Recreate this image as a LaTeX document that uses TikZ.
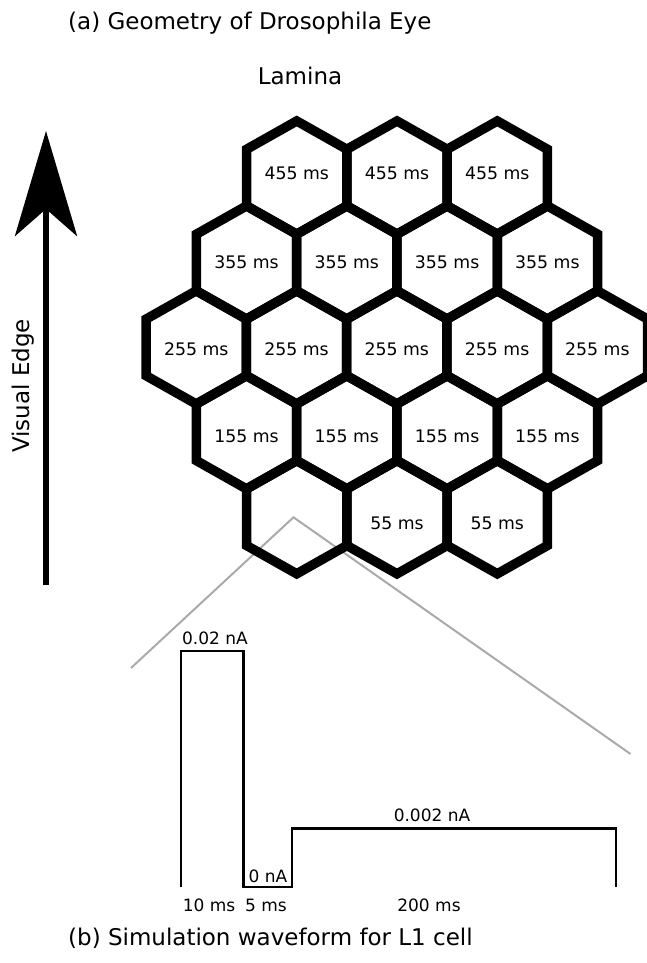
\documentclass[tikz,border=0pt]{standalone}
\usepackage{fontspec}
\setmainfont{DejaVu Sans}
\usepackage{tikz}
\usetikzlibrary{
  arrows.meta
}
\usepackage{xcolor}
\definecolor{zgray}{RGB}{170,170,170}
\tikzset{
  cell/.style={
    draw=black, line width=9.5pt, line join=miter
  },
  celltext/.style={
    font=\fontsize{17.3}{21}\selectfont, inner sep=0pt
  },
  caption/.style={
    font=\fontsize{23}{28}\selectfont, inner sep=0pt
  },
  wave/.style={
    draw=black, line width=2.4pt, line join=miter
  },
  wavetext/.style={
    font=\fontsize{17}{21}\selectfont, inner sep=0pt
  },
  zoomline/.style={
    draw=zgray, line width=2pt
  },
  edgearrow/.style={
    line width=6pt, -{Stealth[length=105pt, width=62pt, inset=27pt]}
  }
}

\begin{document}
\begin{tikzpicture}[x=1pt, y=-1pt]

    \useasboundingbox (0,0) rectangle (647,963);

    %% Captions
    \node[caption, anchor=west] (capa) at (68,23) {(a) Geometry of Drosophila Eye};
    \node[caption] (lamina) at (300,76) {Lamina};
    \node[caption, anchor=west] (capb) at (68,938) {(b) Simulation waveform for L1 cell};

    %% Zoom lines (behind the cells)
    \coordinate (zoom) at (293.5,517.3);
    \coordinate (zoomL) at (131,668);
    \coordinate (zoomR) at (630.5,754);
    \draw[zoomline] (zoomL) -- (zoom) -- (zoomR);

    %% Hexagonal cells: row / centre y / label y / first x / count / first label / delay
    \foreach \r/\y/\ly/\xs/\n/\f/\t in {1/177.6/173/296.7/3/1/455,
                                        2/262.5/262/246.5/4/1/355,
                                        3/347.4/349.5/196.2/5/1/255,
                                        4/432.3/436/246.5/4/1/155,
                                        5/517.2/523.5/296.7/3/2/55}{
      \foreach \c in {1,...,\n}{
        \pgfmathsetmacro\hx{\xs+(\c-1)*100.3}
        \draw[cell, shift={(\hx,\y)}]
          (0,-56.6) -- (50.15,-28.3) -- (50.15,28.3) -- (0,56.6)
          -- (-50.15,28.3) -- (-50.15,-28.3) -- cycle;
      }
      \foreach \c in {\f,...,\n}{
        \pgfmathsetmacro\hx{\xs+(\c-1)*100.3}
        \node[celltext] (t\r\c) at (\hx,\ly) {\t\ ms};
      }
    }

    %% Visual edge arrow
    \coordinate (edgelo) at (46,585);
    \coordinate (edgehi) at (46,131);
    \draw[edgearrow] (edgelo) -- (edgehi);
    \node[caption, rotate=90] (vedge) at (23,386) {Visual Edge};

    %% Waveform
    \draw[wave]
      (180.7,886.7) -- (180.7,651) -- (243.3,651) -- (243.3,886.7)
      -- (291.7,886.7) -- (291.7,828.5) -- (615.7,828.5) -- (615.7,886.7);
    \node[wavetext] (amp1) at (215,638) {0.02 nA};
    \node[wavetext] (amp0) at (268,876) {0 nA};
    \node[wavetext] (amp2) at (432,815) {0.002 nA};
    \node[wavetext] (dur1) at (209,905) {10 ms};
    \node[wavetext] (dur2) at (266,905) {5 ms};
    \node[wavetext] (dur3) at (429,905) {200 ms};

  \end{tikzpicture}
\end{document}
